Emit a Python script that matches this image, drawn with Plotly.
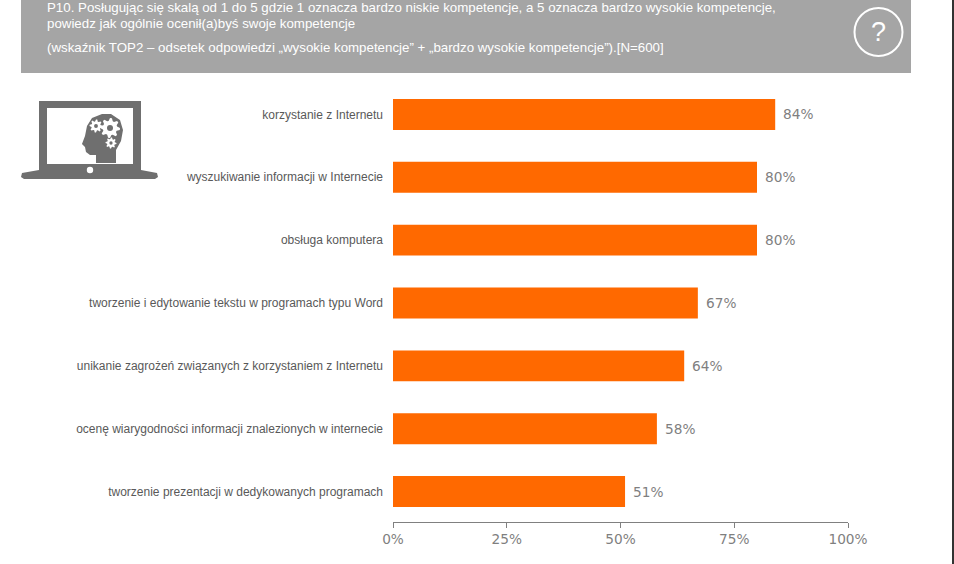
import math
import plotly.graph_objects as go

categories = [
    "korzystanie z Internetu",
    "wyszukiwanie informacji w Internecie",
    "obsługa komputera",
    "tworzenie i edytowanie tekstu w programach typu Word",
    "unikanie zagrożeń związanych z korzystaniem z Internetu",
    "ocenę wiarygodności informacji znalezionych w internecie",
    "tworzenie prezentacji w dedykowanych programach",
]
values = [84, 80, 80, 67, 64, 58, 51]
x_ticks = [0, 25, 50, 75, 100]
header_lines = [
    "P10. Posługując się skalą od 1 do 5 gdzie 1 oznacza bardzo niskie kompetencje, a 5 oznacza bardzo wysokie kompetencje,",
    "powiedz jak ogólnie ocenił(a)byś swoje kompetencje",
    "(wskaźnik TOP2 – odsetek odpowiedzi „wysokie kompetencje” + „bardzo wysokie kompetencje”).[N=600]",
]

W, H = 954, 564
L, R, T, B = 393, 848, 82, 522
ORANGE = "#ff6900"
GREY = "#7f7f7f"
ICON = "#6f6f6f"
HEADER = "#a5a5a5"


def px(x):
    return (x - L) / (R - L)


def py(y):
    return (B - y) / (B - T)


def path(points):
    return "M " + " L ".join(f"{px(x):.5f},{py(y):.5f}" for x, y in points) + " Z"


def rect(x0, y0, x1, y1, color, layer="below"):
    return dict(type="rect", xref="paper", yref="paper", x0=px(x0), x1=px(x1),
                y0=py(y0), y1=py(y1), fillcolor=color, line_width=0, layer=layer)


def circle(cx, cy, r, fill, line=None, width=0):
    return dict(type="circle", xref="paper", yref="paper", x0=px(cx - r), x1=px(cx + r),
                y0=py(cy + r), y1=py(cy - r), fillcolor=fill,
                line=dict(color=line or fill, width=width), layer="above")


def gear(cx, cy, r, teeth=8):
    pts = []
    for i in range(teeth * 4):
        a = 2 * math.pi * i / (teeth * 4)
        rad = r if i % 4 in (0, 1) else r * 0.72
        pts.append((cx + rad * math.cos(a), cy + rad * math.sin(a)))
    return [
        dict(type="path", xref="paper", yref="paper", path=path(pts), fillcolor="white",
             line_width=0, layer="above"),
        circle(cx, cy, r * 0.3, ICON),
    ]


head = [(96, 163), (96, 155), (90, 155), (86, 152), (85, 147), (82, 144), (85, 136),
        (87, 126), (92, 118), (102, 114), (111, 114), (120, 120), (123, 130), (121, 141),
        (116, 150), (116, 163)]
base = [(39, 170), (141, 170), (157, 173), (158, 177), (155, 179), (24, 179), (21, 177), (22, 173)]

shapes = [
    rect(952, 0, 954, 564, "#333333", layer="above"),
    rect(21, 0, 911, 73, HEADER),
    rect(39, 101, 141, 172, ICON),
    rect(47, 108, 133, 164, "white"),
    dict(type="path", xref="paper", yref="paper", path=path(base), fillcolor=ICON,
         line_width=0, layer="above"),
    dict(type="path", xref="paper", yref="paper", path=path(head), fillcolor=ICON,
         line_width=0, layer="above"),
    circle(90, 170, 3.2, "white"),
    circle(878.5, 32, 24, "rgba(0,0,0,0)", "white", 2),
]
shapes += gear(96, 126, 6.5) + gear(110, 128, 10) + gear(111, 143, 5.5)

annotations = [
    dict(x=px(44.5), y=py(y), xref="paper", yref="paper", text=t, showarrow=False,
         xanchor="left", yanchor="middle", align="left",
         font=dict(family="Liberation Sans", size=13.3, color="white"))
    for t, y in zip(header_lines, [7, 23.5, 48])
]
annotations.append(dict(x=px(878.5), y=py(32), xref="paper", yref="paper", text="?",
                        showarrow=False, xanchor="center", yanchor="middle",
                        font=dict(family="Liberation Sans", size=27, color="white")))
annotations += [
    dict(x=v, y=c, xref="x", yref="y", text=f"{v}%", showarrow=False, xanchor="left",
         xshift=6, font=dict(family="DejaVu Sans", size=13.7, color=GREY))
    for c, v in zip(categories, values)
]

fig = go.Figure(go.Bar(
    x=values,
    y=categories,
    orientation="h",
    marker=dict(color=ORANGE, line_width=0),
))

fig.update_layout(
    width=W,
    height=H,
    margin=dict(l=L, r=W - R, t=T, b=H - B, autoexpand=False),
    paper_bgcolor="white",
    plot_bgcolor="white",
    bargap=0.508,
    showlegend=False,
    shapes=shapes,
    annotations=annotations,
    xaxis=dict(
        range=[0, 100], tickvals=x_ticks, ticktext=[f"{v}%" for v in x_ticks],
        showgrid=False, zeroline=False, showline=True, linecolor="#808080", linewidth=1,
        ticks="outside", ticklen=5, tickcolor="#808080", tickwidth=1,
        tickfont=dict(family="DejaVu Sans", size=13.7, color=GREY),
    ),
    yaxis=dict(
        range=[6.484, -0.516], showgrid=False, zeroline=False, showline=False, ticks="",
        ticklabelstandoff=9,
        tickfont=dict(family="Liberation Sans", size=12, color="#595959"),
    ),
)

fig.write_html(
    "out.html",
    config={"displayModeBar": False},
    post_script="document.body.style.margin='0';document.documentElement.style.overflow='hidden';",
)
